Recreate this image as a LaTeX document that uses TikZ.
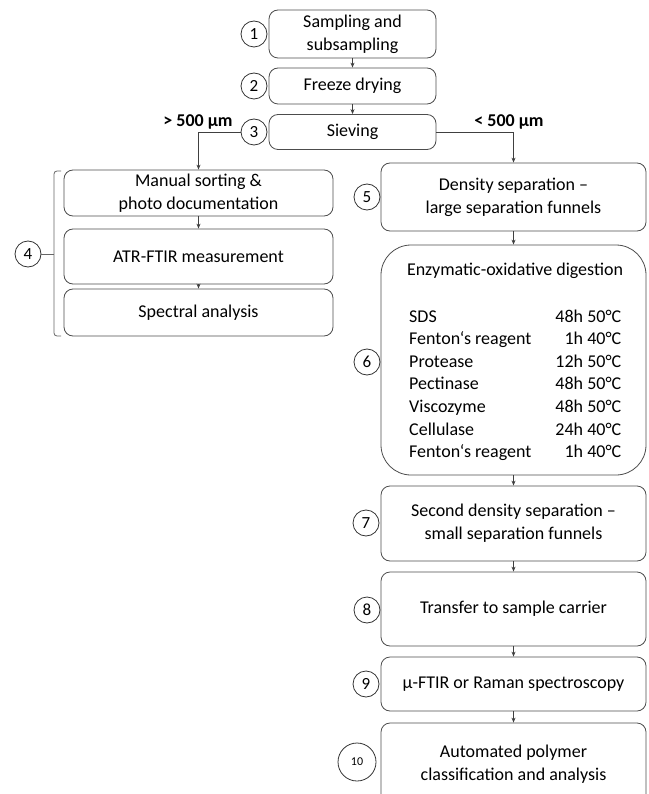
\documentclass[tikz,border=0pt]{standalone}
\usepackage{fontspec}
\setmainfont{Carlito}
\usetikzlibrary{arrows.meta}

\begin{document}
\begin{tikzpicture}[x=1pt,y=-1pt,
  box/.style={draw=black!70, line width=0.8pt, rounded corners=9pt, align=center,
    font=\fontsize{18}{23}\selectfont, inner sep=0pt},
  num/.style={draw=black!80, line width=0.8pt, circle, minimum size=26pt, inner sep=0pt,
    font=\fontsize{17}{17}\selectfont},
  arr/.style={draw=black!75, line width=0.8pt, -{Stealth[length=5pt,width=4pt]}},
  txt/.style={font=\fontsize{18}{22.6}\selectfont, inner sep=0pt}]
\useasboundingbox (0,0) rectangle (648,794);

% top column
\node[box, minimum width=167pt, minimum height=48pt] (s1) at (352.5,34) {Sampling and\\subsampling};
\node[box, minimum width=167pt, minimum height=36pt] (s2) at (352.5,86) {Freeze drying};
\node[box, minimum width=167pt, minimum height=35pt] (s3) at (352.5,132) {Sieving};
\node[num] (c1) at (254,34) {1};
\node[num] (c2) at (254,86) {2};
\node[num] (c3) at (254,132) {3};
\draw[arr] (s1) -- (s2);
\draw[arr] (s2) -- (s3);

% sizes
\node[anchor=base, font=\fontsize{18}{18}\selectfont\bfseries] (lbig) at (198,127) {> 500 µm};
\node[anchor=base, font=\fontsize{18}{18}\selectfont\bfseries] (lsmall) at (509,127) {< 500 µm};

% left column
\node[box, minimum width=269pt, minimum height=46pt] (s4a) at (198.5,193) {Manual sorting \&\\photo documentation};
\node[box, minimum width=269pt, minimum height=55pt] (s4b) at (198.5,256.5) {ATR-FTIR measurement};
\node[box, minimum width=269pt, minimum height=47pt] (s4c) at (198.5,312.5) {Spectral analysis};
\node[num] (c4) at (28,254) {4};
\coordinate (br) at (54,254);
\draw[draw=black!60, line width=0.8pt, rounded corners=3pt] (61,171) -- (54,171) -- (54,336) -- (61,336);
\draw[draw=black!60, line width=0.8pt] (c4.east) -- (br);
\draw[arr] (s4a) -- (s4b);
\draw[arr] (s4b) -- (s4c);

% right column
\node[box, minimum width=265pt, minimum height=68pt] (s5) at (513.5,197) {Density separation --\\large separation funnels};
\node[box, minimum width=265pt, minimum height=230pt, rounded corners=30pt] (s6) at (513.5,360) {};
\node[txt, anchor=base] (s6t) at (515,275) {Enzymatic-oxidative digestion};
\node[txt, anchor=base west] (s6l) at (409,322) {%
  \begin{tabular*}{212pt}[t]{@{}l@{\extracolsep{\fill}}r@{}}
    SDS & 48h 50°C\\
    Fenton‘s reagent & 1h 40°C\\
    Protease & 12h 50°C\\
    Pectinase & 48h 50°C\\
    Viscozyme & 48h 50°C\\
    Cellulase & 24h 40°C\\
    Fenton‘s reagent & 1h 40°C
  \end{tabular*}};
\node[box, minimum width=265pt, minimum height=75pt] (s7) at (513.5,523.5) {Second density separation --\\small separation funnels};
\node[box, minimum width=265pt, minimum height=74pt] (s8) at (513.5,609) {Transfer to sample carrier};
\node[box, minimum width=265pt, minimum height=54pt] (s9) at (513.5,684) {µ-FTIR or Raman spectroscopy};
\node[box, minimum width=265pt, minimum height=80pt, text depth=0pt] (s10) at (513.5,763) {Automated polymer\\classification and analysis};
\node[num] (c5) at (367,197) {5};
\node[num] (c6) at (367,362) {6};
\node[num] (c7) at (366,523) {7};
\node[num] (c8) at (367,610) {8};
\node[num] (c9) at (366,684) {9};
\node[num, minimum size=38pt, font=\fontsize{12}{12}\selectfont] (c10) at (357,762) {10};
\draw[arr] (s5) -- (s6);
\draw[arr] (s6) -- (s7);
\draw[arr] (s7) -- (s8);
\draw[arr] (s8) -- (s9);
\draw[arr] (s9) -- (s10);

% split after sieving
\draw[arr] (c3.west) -| (s4a.north);
\draw[arr] (s3.east) -| (s5.north);
\end{tikzpicture}
\end{document}
